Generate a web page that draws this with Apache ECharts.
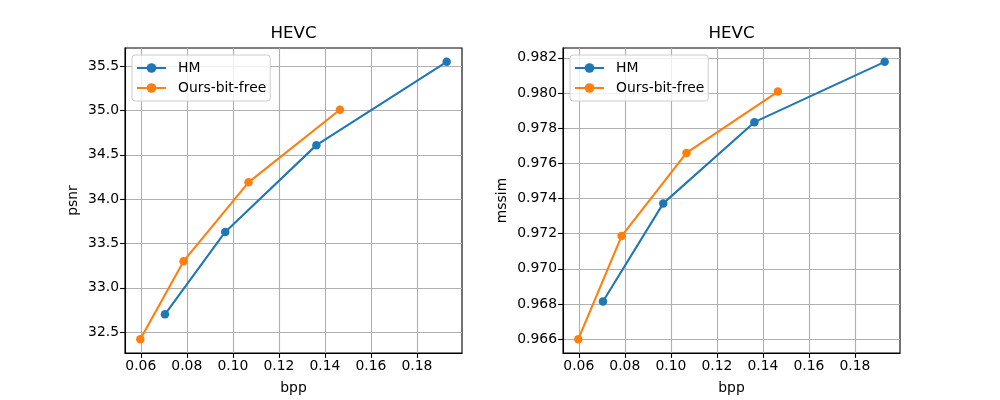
<!DOCTYPE html>
<html>
<head>
<meta charset="utf-8">
<script src="https://cdn.jsdelivr.net/npm/echarts@6/dist/echarts.min.js"></script>
<style>
html,body{margin:0;padding:0;background:#fff;}
#c{width:1000px;height:400px;}
</style>
</head>
<body>
<div id="c"></div>
<script>
// Data
const hmBpp = [0.0705, 0.0967, 0.1363, 0.1929];
const oursBpp = [0.0598, 0.0786, 0.1068, 0.1465];
const hmPsnr = [32.70, 33.63, 34.61, 35.55];
const oursPsnr = [32.42, 33.30, 34.19, 35.01];
const hmSsim = [0.96814, 0.97372, 0.97834, 0.98177];
const oursSsim = [0.96600, 0.97186, 0.97659, 0.98008];
const xTicks = [0.06, 0.08, 0.10, 0.12, 0.14, 0.16, 0.18];
const psnrTicks = [32.5, 33.0, 33.5, 34.0, 34.5, 35.0, 35.5];
const ssimTicks = [0.966, 0.968, 0.970, 0.972, 0.974, 0.976, 0.978, 0.980, 0.982];
const titles = ['HEVC', 'HEVC'];
const seriesNames = ['HM', 'Ours-bit-free'];
const xName = 'bpp';
const yNames = ['psnr', 'mssim'];

const FONT = 'DejaVu Sans';
const FS = 13.9;
const BLUE = '#1f77b4', ORANGE = '#ff7f0e';

function pairs(xs, ys) { return xs.map((x, i) => [x, ys[i]]); }
function padRange(vals) {
  const mn = Math.min(...vals), mx = Math.max(...vals);
  const m = (mx - mn) * 0.05;
  return [mn - m, mx + m];
}
const xr = padRange(hmBpp.concat(oursBpp));
const yr1 = padRange(hmPsnr.concat(oursPsnr));
const yr2 = padRange(hmSsim.concat(oursSsim));

const grids = [
  {left: 125, top: 48, width: 337, height: 308},
  {left: 563, top: 48, width: 337, height: 308}
];

function xAxis(gi) {
  return {
    type: 'value', gridIndex: gi, min: xr[0], max: xr[1], splitNumber: 7,
    name: xName, nameLocation: 'middle', nameGap: 28,
    nameTextStyle: {fontFamily: FONT, fontSize: FS, color: '#000'},
    axisLine: {show: true, onZero: false, lineStyle: {color: '#000', width: 1.1}},
    axisTick: {show: true, length: 4.9, lineStyle: {color: '#000', width: 1.1}, customValues: xTicks},
    axisLabel: {show: true, margin: 6, fontFamily: FONT, fontSize: FS, color: '#000',
      customValues: xTicks, formatter: v => v.toFixed(2)},
    splitLine: {show: true, lineStyle: {color: '#b0b0b0', width: 1.1}}
  };
}
function yAxis(gi, r, ticks, dec, name, gap, split) {
  return {
    type: 'value', gridIndex: gi, min: r[0], max: r[1], splitNumber: split,
    name: name, nameLocation: 'middle', nameGap: gap,
    nameTextStyle: {fontFamily: FONT, fontSize: FS, color: '#000'},
    axisLine: {show: true, onZero: false, lineStyle: {color: '#000', width: 1.1}},
    axisTick: {show: true, length: 4.9, lineStyle: {color: '#000', width: 1.1}, customValues: ticks},
    axisLabel: {show: true, margin: 6, fontFamily: FONT, fontSize: FS, color: '#000',
      customValues: ticks, formatter: v => v.toFixed(dec)},
    splitLine: {show: true, lineStyle: {color: '#b0b0b0', width: 1.1}}
  };
}

function lineSeries(name, data, color, gi) {
  return {
    name: name, type: 'line', xAxisIndex: gi, yAxisIndex: gi, data: data,
    symbol: 'circle', symbolSize: 8.5, showSymbol: true,
    itemStyle: {color: color}, lineStyle: {color: color, width: 2.1},
    emphasis: {disabled: true}, animation: false, z: name === seriesNames[1] ? 3 : 2
  };
}

function legend(left) {
  return {
    orient: 'vertical', left: left, top: 55, data: seriesNames,
    itemWidth: 29, itemHeight: 12, itemGap: 6,
    itemStyle: {borderWidth: 0},
    padding: [6, 4, 6, 4],
    backgroundColor: 'rgba(255,255,255,0.8)', borderColor: '#cccccc', borderWidth: 1, borderRadius: 3,
    textStyle: {fontFamily: FONT, fontSize: FS, color: '#000', padding: [0, 0, 0, 7]},
    selectedMode: false
  };
}

const chart = echarts.init(document.getElementById('c'), null, {renderer: 'canvas'});
chart.setOption({
  animation: false,
  backgroundColor: '#fff',
  title: [
    {text: titles[0], left: 293.5, top: 25, textAlign: 'center', padding: 0,
      textStyle: {fontFamily: FONT, fontSize: 16.7, fontWeight: 'normal', color: '#000'}},
    {text: titles[1], left: 731.5, top: 25, textAlign: 'center', padding: 0,
      textStyle: {fontFamily: FONT, fontSize: 16.7, fontWeight: 'normal', color: '#000'}}
  ],
  legend: [legend(132), legend(570)],
  grid: grids.map(g => Object.assign({containLabel: false, show: true, borderColor: '#000', borderWidth: 1.1, backgroundColor: 'transparent'}, g)),
  xAxis: [xAxis(0), xAxis(1)],
  yAxis: [
    yAxis(0, yr1, psnrTicks, 1, yNames[0], 45, 7),
    yAxis(1, yr2, ssimTicks, 3, yNames[1], 54, 8)
  ],
  series: [
    lineSeries(seriesNames[0], pairs(hmBpp, hmPsnr), BLUE, 0),
    lineSeries(seriesNames[1], pairs(oursBpp, oursPsnr), ORANGE, 0),
    lineSeries(seriesNames[0], pairs(hmBpp, hmSsim), BLUE, 1),
    lineSeries(seriesNames[1], pairs(oursBpp, oursSsim), ORANGE, 1)
  ]
});
</script>
</body>
</html>
